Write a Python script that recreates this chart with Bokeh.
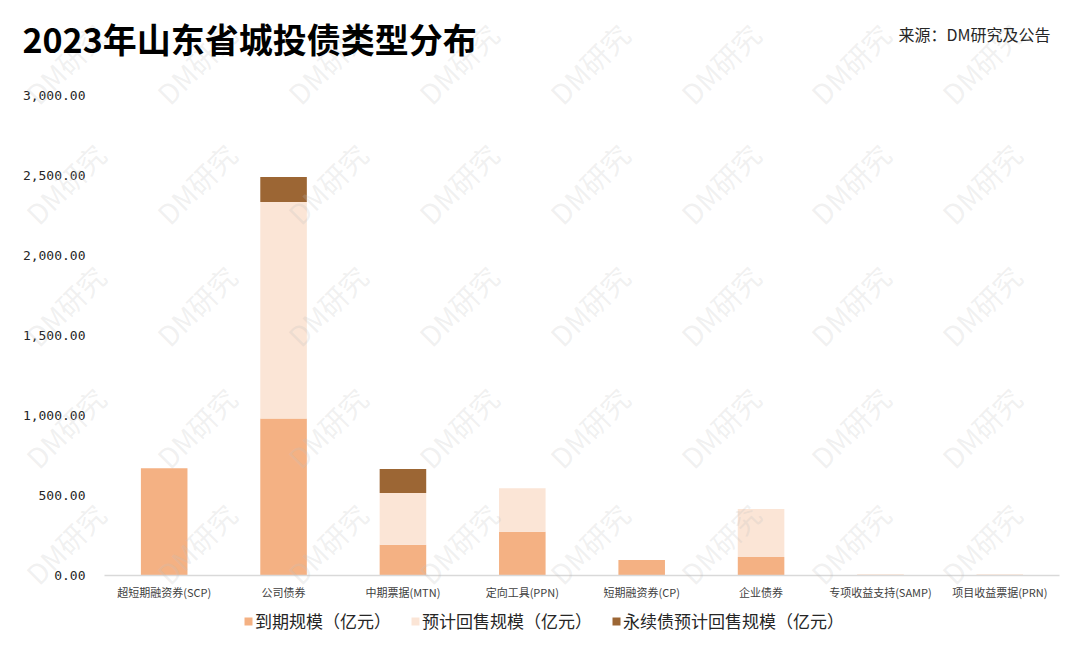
import math
from bokeh.plotting import figure
from bokeh.models import (ColumnDataSource, Range1d, FixedTicker,
                          NumeralTickFormatter, Label, Legend, LegendItem)
from bokeh.embed import file_html
from bokeh.resources import INLINE

# ---------------- data ----------------
categories = ["超短期融资券(SCP)", "公司债券", "中期票据(MTN)", "定向工具(PPN)",
              "短期融资券(CP)", "企业债券", "专项收益支持(SAMP)", "项目收益票据(PRN)"]
maturity = [670, 982, 192, 274, 97, 116, 5, 4]          # 到期规模（亿元）
putback = [0, 1352, 324, 271, 0, 300, 3, 2]             # 预计回售规模（亿元）
perpetual_putback = [0, 157, 150, 0, 0, 0, 0, 0]        # 永续债预计回售规模（亿元）
series_names = ["到期规模（亿元）", "预计回售规模（亿元）", "永续债预计回售规模（亿元）"]
y_ticks = [0, 500, 1000, 1500, 2000, 2500, 3000]
title_text = "2023年山东省城投债类型分布"
source_text = "来源：DM研究及公告"
watermark_text = "DM研究"

colors = ["#F4B183", "#FBE5D6", "#9C6634"]
keys = ["maturity", "putback", "perpetual"]
CJK = "Noto Sans CJK SC"

# ---------------- layout geometry (pixels) ----------------
W, H = 1064, 633
PLOT_L, PLOT_R = 104, 1059      # category band area
Y0_PX, Y3000_PX = 575, 95       # pixel rows of value 0 and 3000

n = len(categories)
xpos = [i + 0.5 for i in range(n)]
px_per_cat = (PLOT_R - PLOT_L) / n
px_per_val = (Y0_PX - Y3000_PX) / 3000.0
x_start = -PLOT_L / px_per_cat
x_end = x_start + W / px_per_cat
y_start = -(H - Y0_PX) / px_per_val
y_end = y_start + H / px_per_val

src = ColumnDataSource(dict(x=xpos, cat=categories, maturity=maturity,
                            putback=putback, perpetual=perpetual_putback))

p = figure(width=W, height=H, output_backend="svg", toolbar_location=None,
           x_range=Range1d(x_start, x_end), y_range=Range1d(y_start, y_end),
           min_border=0)
p.outline_line_color = None
p.grid.visible = False
p.background_fill_color = "white"

renderers = p.vbar_stack(keys, x="x", width=0.39, source=src,
                         color=colors, line_color=None)

# watermarks
wm_cols = [65, 196, 327, 458, 589, 720, 850, 981]
wm_rows = [63, 183, 305, 427, 543]
for ry in wm_rows:
    for cx in wm_cols:
        p.add_layout(Label(x=cx, y=H - ry, x_units="screen", y_units="screen",
                           text=watermark_text, angle=math.pi / 4,
                           text_align="center", text_baseline="middle",
                           text_font=CJK, text_font_size="28px",
                           text_color="#bfbfbf", text_alpha=0.24))

# axes drawn at fixed locations inside the (full-canvas) frame
yax = p.yaxis[0]
yax.fixed_location = 0
yax.ticker = FixedTicker(ticks=y_ticks)
yax.formatter = NumeralTickFormatter(format="0,0.00")
yax.axis_line_color = None
yax.major_tick_line_color = None
yax.minor_tick_line_color = None
yax.major_tick_in = 0
yax.major_tick_out = 0
yax.major_label_standoff = 19
yax.major_label_text_font = "DejaVu Sans Mono"
yax.major_label_text_font_size = "13px"
yax.major_label_text_color = "#262626"

xax = p.xaxis[0]
xax.fixed_location = 0
xax.bounds = (0, n)
xax.ticker = FixedTicker(ticks=xpos)
xax.major_label_overrides = {x: c for x, c in zip(xpos, categories)}
xax.axis_line_color = "#d9d9d9"
xax.axis_line_width = 1.5
xax.major_tick_line_color = None
xax.minor_tick_line_color = None
xax.major_tick_in = 0
xax.major_tick_out = 0
xax.major_label_standoff = 8
xax.major_label_text_font = CJK
xax.major_label_text_font_size = "11px"
xax.major_label_text_color = "#404040"

# legend
items = [LegendItem(label=nm, renderers=[r]) for nm, r in zip(series_names, renderers)]
legend = Legend(items=items, orientation="horizontal", location=(243, 0),
                padding=0, margin=0, spacing=19, glyph_width=10, glyph_height=10,
                label_standoff=2, label_height=20, label_text_font=CJK,
                label_text_font_size="17px", label_text_color="#262626",
                border_line_alpha=0, background_fill_alpha=0)
p.add_layout(legend, "center")

# title and source
p.add_layout(Label(x=22, y=H - 38, x_units="screen", y_units="screen",
                   text=title_text, text_font=CJK, text_font_size="34px",
                   text_font_style="bold", text_color="#000000",
                   text_baseline="middle", text_align="left"))
p.add_layout(Label(x=1050, y=H - 33, x_units="screen", y_units="screen",
                   text=source_text, text_font=CJK, text_font_size="16px",
                   text_color="#262626", text_baseline="middle", text_align="right"))

open("out.html", "w").write(file_html(p, INLINE))
